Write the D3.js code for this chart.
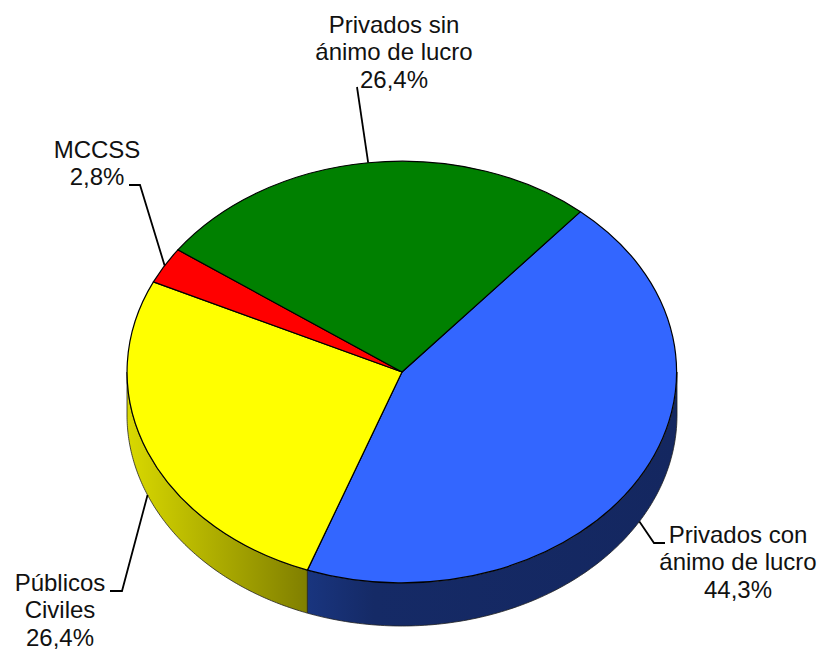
<!DOCTYPE html>
<html>
<head>
<meta charset="utf-8">
<script src="https://cdn.jsdelivr.net/npm/d3@7/dist/d3.min.js"></script>
<style>
html,body{margin:0;padding:0;background:#fff}
svg{display:block}
text{font-family:"Liberation Sans",Arial,sans-serif;font-size:24px;fill:#111}
</style>
</head>
<body>
<svg id="c" width="823" height="654"></svg>
<script>
const categories = ["Privados con ánimo de lucro","Públicos Civiles","MCCSS","Privados sin ánimo de lucro"];
const values = [44.3,26.4,2.8,26.4];
const valueLabels = ["44,3%","26,4%","2,8%","26,4%"];
const labelLines = [["Privados con","ánimo de lucro"],["Públicos","Civiles"],["MCCSS"],["Privados sin","ánimo de lucro"]];
const topColors = ["#3366ff","#ffff00","#ff0000","#008000"];
const sideStops = [
  [["0","#19357f"],["0.18","#152a66"],["1","#142760"]],
  [["0","#d9d900"],["1","#807f00"]],
  null,null
];
const cx=402, cy=372, rx=275, ry=211, depth=43;
const labelX=[738,60,97,394], labelY=[543,591,158,33];
const leaderBends=[[[654,543],[665,543]],[[122,591],[110,591]],[[140,185],[129,185]],[[357,87]]];

const svg=d3.select("#c");
const pie=d3.pie().sort(null).value(d=>d).startAngle(40.5*Math.PI/180).endAngle((360+40.5)*Math.PI/180)(values);
const ex=d3.scaleLinear().domain([0,1]).range([cx,cx+rx]);
const ey=d3.scaleLinear().domain([0,1]).range([cy,cy-ry]);
const pt=(a,dz=0)=>[ex(Math.sin(a)),ey(Math.cos(a))+dz];

const defs=svg.append("defs");
pie.forEach((p,i)=>{
  if(!sideStops[i])return;
  const a0=Math.max(p.startAngle,Math.PI/2), a1=Math.min(p.endAngle,1.5*Math.PI);
  if(a1<=a0)return;
  const xa=pt(a0)[0], xb=pt(a1)[0];
  const x1=Math.min(xa,xb), x2=Math.max(xa,xb);
  const g=defs.append("linearGradient").attr("id","g"+i).attr("gradientUnits","userSpaceOnUse")
    .attr("x1",x1).attr("x2",x2).attr("y1",0).attr("y2",0);
  sideStops[i].forEach(s=>g.append("stop").attr("offset",s[0]).attr("stop-color",s[1]));
  const as=d3.range(0,121).map(k=>a0+(a1-a0)*k/120);
  const pts=as.map(a=>pt(a)).concat(as.slice().reverse().map(a=>pt(a,depth)));
  svg.append("path").attr("d",d3.line()(pts)+"Z").attr("fill","url(#g"+i+")")
    .attr("stroke","#222").attr("stroke-width",0.8).attr("stroke-linejoin","round");
});
const arc=d3.arc().innerRadius(0).outerRadius(1);
svg.selectAll("path.top").data(pie).join("path").attr("class","top")
  .attr("d",arc)
  .attr("transform",`translate(${cx},${cy}) scale(${rx},${ry})`)
  .attr("fill",(d,i)=>topColors[i])
  .attr("stroke","#000").attr("stroke-width",1.2)
  .attr("stroke-linejoin","round")
  .attr("vector-effect","non-scaling-stroke");
pie.forEach((p,i)=>{
  const mid=(p.startAngle+p.endAngle)/2;
  const anchor=pt(mid,Math.cos(mid)<0?depth:0);
  svg.append("path").attr("d",d3.line()([anchor,...leaderBends[i]]))
    .attr("fill","none").attr("stroke","#000").attr("stroke-width",1.8);
});
categories.forEach((c,i)=>{
  const t=svg.append("text").attr("text-anchor","middle").attr("x",labelX[i]).attr("y",labelY[i]);
  labelLines[i].concat([valueLabels[i]]).forEach((l,k)=>{
    t.append("tspan").attr("x",labelX[i]).attr("dy",k?27.3:0).text(l);
  });
});
</script>
</body>
</html>
